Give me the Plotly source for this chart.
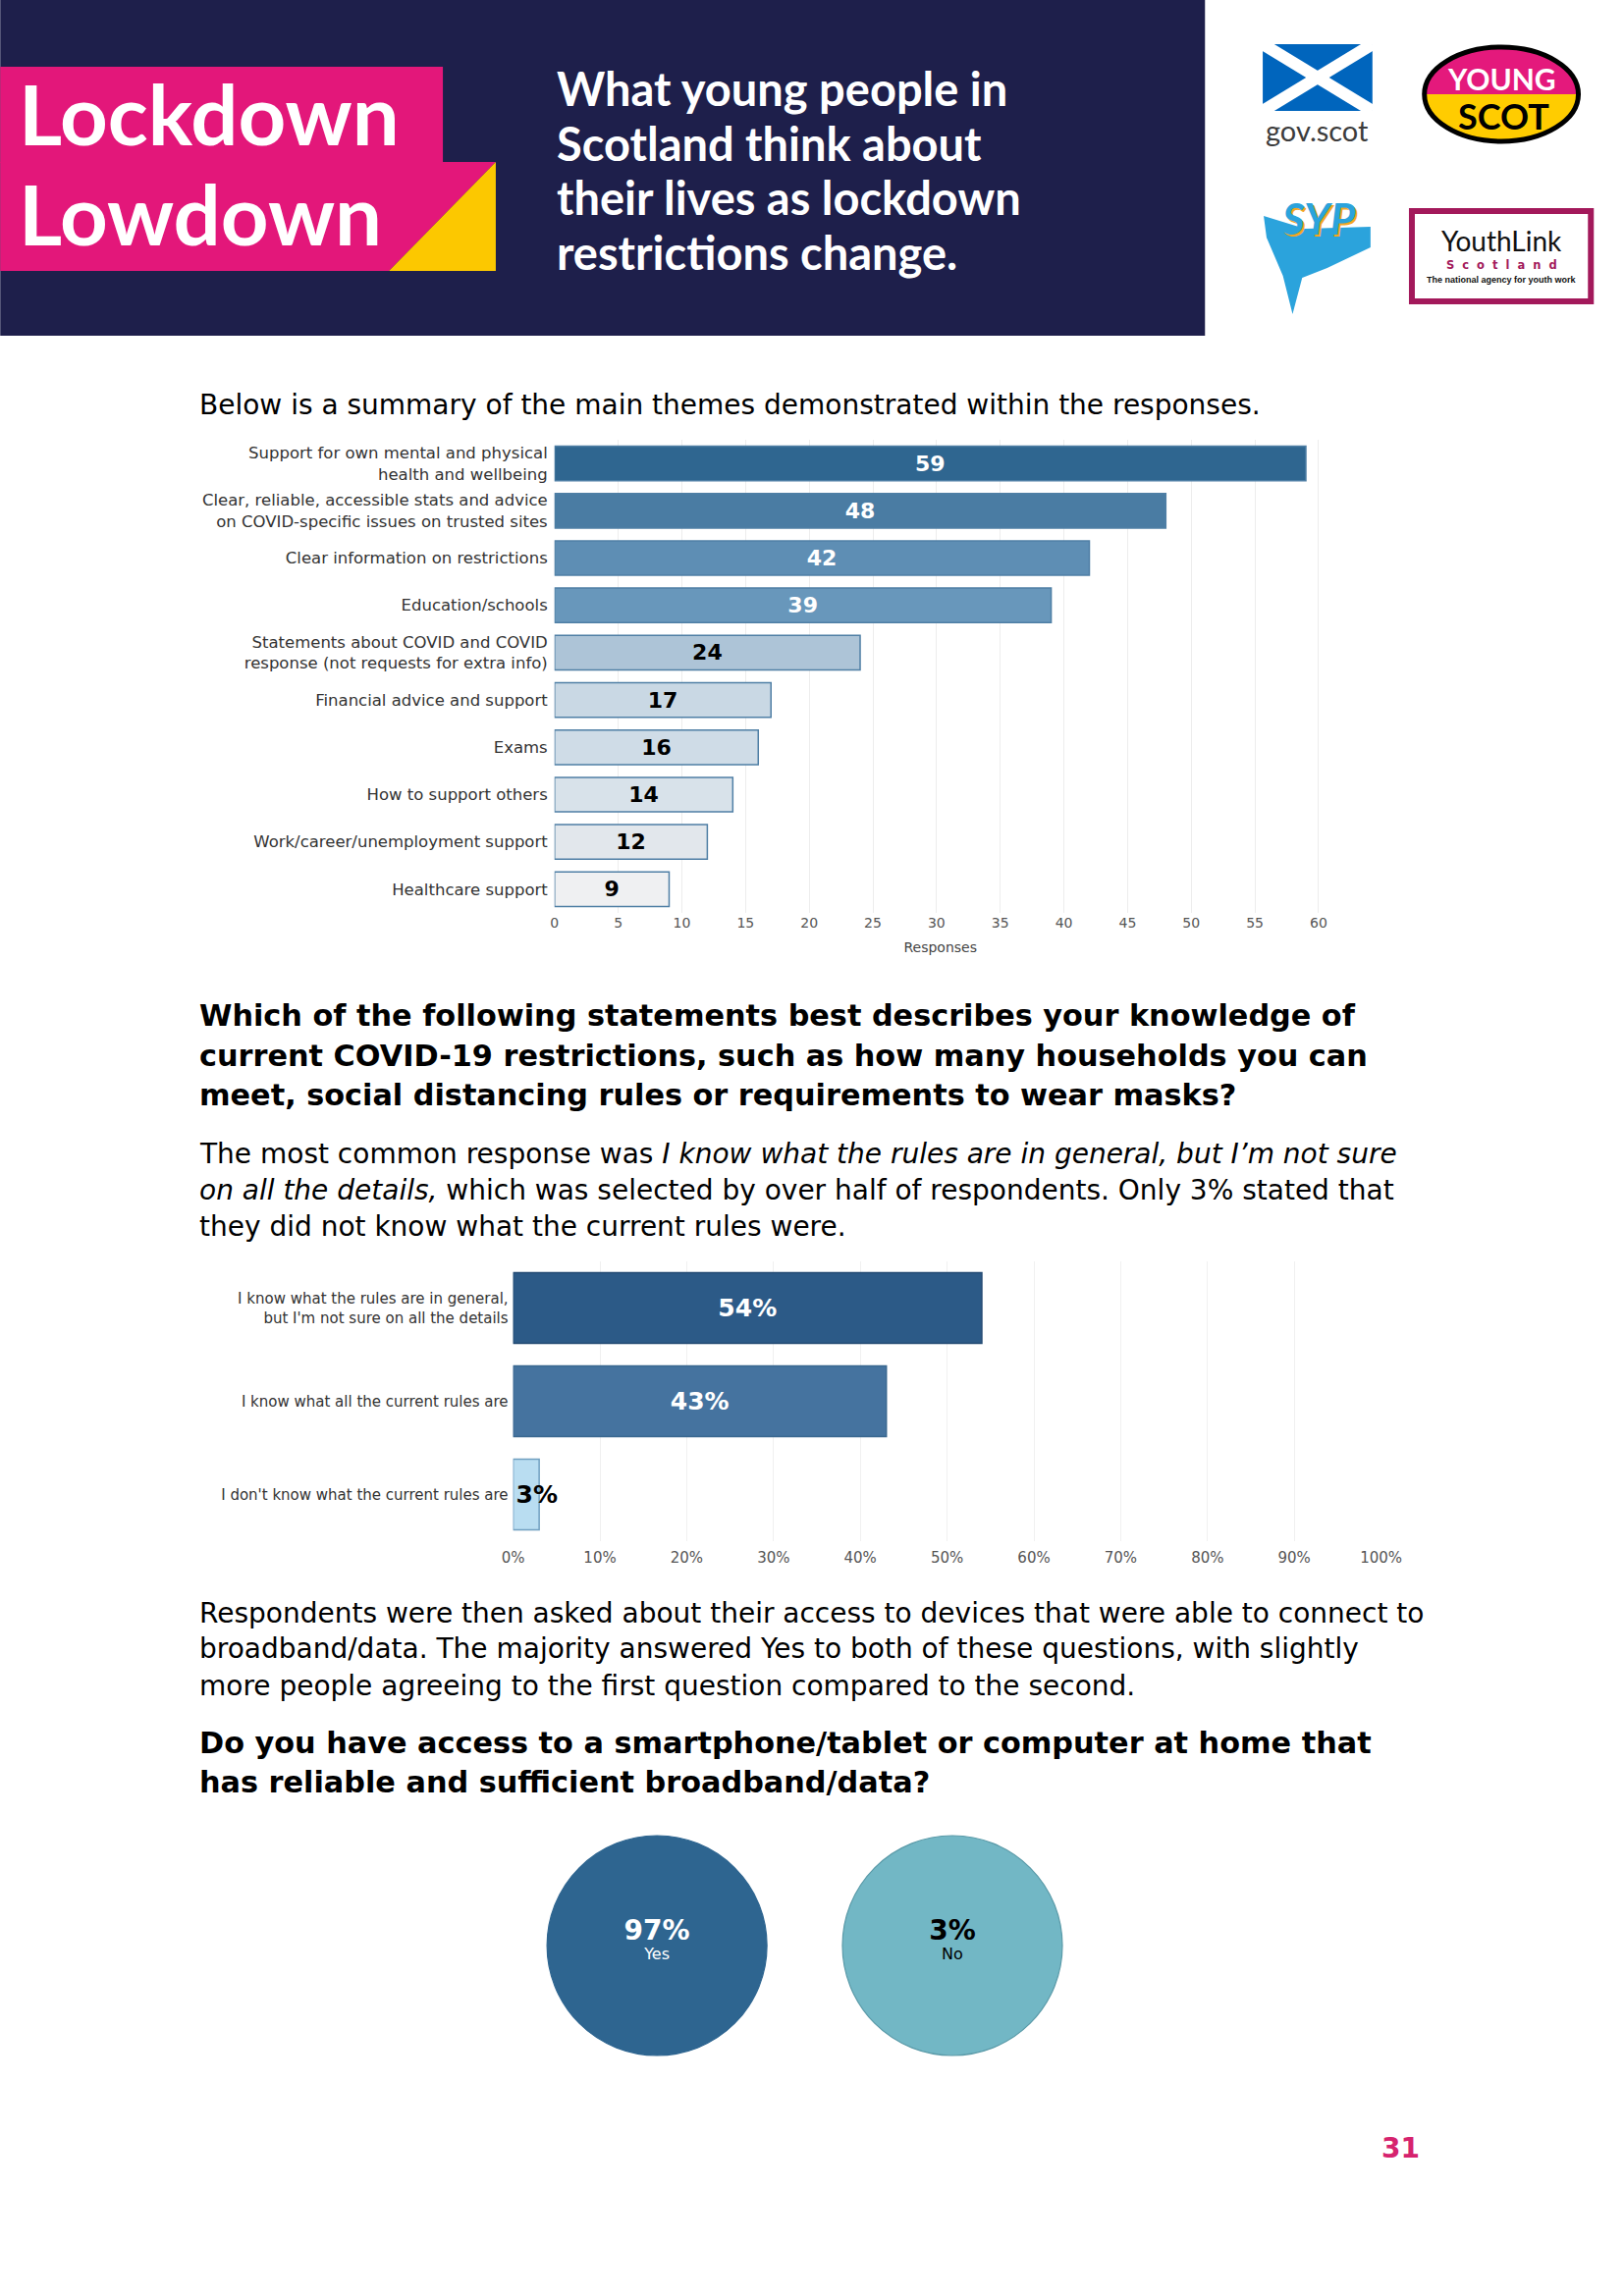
import plotly.graph_objects as go

W, H = 1654, 2339


def X(px):
    return px / W


def Y(py):
    return 1 - py / H


# ---------------- data ----------------
themes = [
    "Support for own mental and physical<br>health and wellbeing",
    "Clear, reliable, accessible stats and advice<br>on COVID-specific issues on trusted sites",
    "Clear information on restrictions",
    "Education/schools",
    "Statements about COVID and COVID<br>response (not requests for extra info)",
    "Financial advice and support",
    "Exams",
    "How to support others",
    "Work/career/unemployment support",
    "Healthcare support",
]
responses = [59, 48, 42, 39, 24, 17, 16, 14, 12, 9]
response_ticks = [0, 5, 10, 15, 20, 25, 30, 35, 40, 45, 50, 55, 60]

knowledge = [
    "I know what the rules are in general,<br>but I'm not sure on all the details",
    "I know what all the current rules are",
    "I don't know what the current rules are",
]
knowledge_pct = [54, 43, 3]
pct_ticks = [0, 10, 20, 30, 40, 50, 60, 70, 80, 90, 100]
pct_tick_text = ["0%", "10%", "20%", "30%", "40%", "50%", "60%", "70%", "80%", "90%", "100%"]

access = ["Yes", "No"]
access_pct = [97, 3]

# ---------------- styles ----------------
theme_colors = ["#2f6690", "#4a7ca3", "#5e8eb4", "#6897bb", "#adc4d7",
                "#c9d8e4", "#cfdce7", "#d8e2ea", "#e2e7ec", "#eff0f2"]
theme_text_colors = ["white"] * 4 + ["black"] * 6
knowledge_colors = ["#2c5a87", "#45739f", "#b9ddf1"]
knowledge_line = ["#244b73", "#3a6890", "#6f9fc0"]
knowledge_text = ["white", "white", "black"]
access_colors = ["#2e6590", "#72b7c5"]
access_line = ["#2e6590", "#5a9aa8"]
access_text = ["white", "black"]

BODY = "DejaVu Sans"
NAVY = "#1e1f4b"
PINK = "#e3177a"
YELLOW = "#fcc800"

fig = go.Figure()

# ---------------- chart 1 : themes ----------------
fig.add_trace(go.Bar(
    x=responses, y=themes, orientation="h", width=0.73,
    marker=dict(color=theme_colors, line=dict(color="#4f7fa5", width=1.5)),
    text=[f"<b>{v}</b>" for v in responses],
    textposition="inside", insidetextanchor="middle", textangle=0,
    constraintext="none",
    textfont=dict(family=BODY, size=22, color=theme_text_colors),
    xaxis="x", yaxis="y", hoverinfo="skip", showlegend=False,
))

# ---------------- chart 2 : knowledge ----------------
wide = [i for i, v in enumerate(knowledge_pct) if v >= 10]
narrow = [i for i, v in enumerate(knowledge_pct) if v < 10]
for idx, anchor in ((wide, "middle"), (narrow, "start")):
    fig.add_trace(go.Bar(
        x=[knowledge_pct[i] for i in idx], y=[knowledge[i] for i in idx],
        orientation="h", width=0.76,
        marker=dict(color=[knowledge_colors[i] for i in idx],
                    line=dict(color=[knowledge_line[i] for i in idx], width=1.5)),
        text=[f"<b>{knowledge_pct[i]}%</b>" for i in idx],
        textposition="inside", insidetextanchor=anchor, textangle=0,
        constraintext="none",
        textfont=dict(family=BODY, size=25, color=[knowledge_text[i] for i in idx]),
        xaxis="x2", yaxis="y2", hoverinfo="skip", showlegend=False,
    ))

# ---------------- chart 3 : access bubbles ----------------
fig.add_trace(go.Scatter(
    x=list(range(len(access))), y=[0] * len(access),
    mode="markers+text",
    marker=dict(size=224, color=access_colors,
                line=dict(color=access_line, width=1.2), opacity=1),
    text=[f"<span style='font-size:28px'><b>{p}%</b></span><br>{l}"
          for p, l in zip(access_pct, access)],
    textposition="middle center",
    textfont=dict(family=BODY, size=16, color=access_text),
    cliponaxis=False, xaxis="x3", yaxis="y3", hoverinfo="skip", showlegend=False,
))

# ---------------- shapes (header & logos) ----------------
shapes = []


def rect(x0, y0, x1, y1, fill, line_color=None, lw=0):
    shapes.append(dict(type="rect", xref="paper", yref="paper",
                       x0=X(x0), x1=X(x1), y0=Y(y1), y1=Y(y0),
                       fillcolor=fill, layer="above",
                       line=dict(width=lw, color=line_color or fill)))


def poly(pts, fill, line_color=None, lw=0):
    d = "M " + " L ".join(f"{X(a):.5f},{Y(b):.5f}" for a, b in pts) + " Z"
    shapes.append(dict(type="path", xref="paper", yref="paper", path=d,
                       fillcolor=fill, layer="above",
                       line=dict(width=lw, color=line_color or fill)))


def half_ellipse(cx, cy, rx, ry, top, fill):
    k = 0.5523
    s = -1 if top else 1
    pts = [(cx - rx, cy), (cx - rx, cy + s * k * ry), (cx - k * rx, cy + s * ry), (cx, cy + s * ry),
           (cx + k * rx, cy + s * ry), (cx + rx, cy + s * k * ry), (cx + rx, cy)]
    f = [f"{X(a):.5f},{Y(b):.5f}" for a, b in pts]
    d = f"M {f[0]} C {f[1]} {f[2]} {f[3]} C {f[4]} {f[5]} {f[6]} Z"
    shapes.append(dict(type="path", xref="paper", yref="paper", path=d,
                       fillcolor=fill, layer="above", line=dict(width=0, color=fill)))


# banner
rect(-12, -12, 1240, 342, NAVY)
rect(-12, 68, 448, 166, PINK)
poly([(-12, 165), (503, 165), (392, 276), (-12, 276)], PINK)
poly([(503, 165), (503, 276), (392, 276)], YELLOW)

# gov.scot flag
rect(1300, 45, 1414, 113, "#0065bd")
for (a, b, c, d) in ((1300, 45, 1414, 113), (1300, 113, 1414, 45)):
    shapes.append(dict(type="line", xref="paper", yref="paper",
                       x0=X(a), y0=Y(b), x1=X(c), y1=Y(d), layer="above",
                       line=dict(color="white", width=12)))
# Young Scot
YX = 1548
half_ellipse(YX, 96, 80, 48, True, "#e4197c")
half_ellipse(YX, 96, 80, 48, False, "#ffcc00")
shapes.append(dict(type="circle", xref="paper", yref="paper",
                   x0=X(YX - 80), x1=X(YX + 80), y0=Y(144), y1=Y(48), layer="above",
                   line=dict(color="black", width=5)))
# SYP
poly([(1301, 220), (1344, 233), (1412, 231), (1412, 252), (1367, 273),
      (1341, 283), (1331, 320), (1321, 281), (1304, 242)], "#2ba3dc")
# YouthLink
rect(1455, 215, 1641, 307, "white", "#a3195b", 6)

annotations = []


def txt(x, y, text, size, color="black", family=BODY, xanchor="left", yanchor="middle"):
    annotations.append(dict(xref="paper", yref="paper", x=X(x), y=Y(y), text=text,
                            showarrow=False, xanchor=xanchor, yanchor=yanchor,
                            align=xanchor if xanchor != "center" else "center",
                            borderpad=0,
                            font=dict(family=family, size=size, color=color)))


# banner text
txt(6, 115, "<b>Lockdown</b>", 85, "white", "Lato")
txt(6, 217, "<b>Lowdown</b>", 85, "white", "Lato")
for i, line in enumerate(["What young people in", "Scotland think about",
                          "their lives as lockdown", "restrictions change."]):
    txt(565, 90 + 55.5 * i, f"<b>{line}</b>", 47, "white", "Lato")

# logos text
txt(1357, 132, "gov.scot", 29, "#3c3c3c", "Lato", "center")
txt(YX, 80, "<b>YOUNG</b>", 30, "white", "Lato", "center")
txt(YX + 2, 118, "<b>SCOT</b>", 36, "black", "Lato", "center")
txt(1360, 224, "<b><i>SYP</i></b>", 44, "#f5a623", "Lato", "center")
txt(1358, 222, "<b><i>SYP</i></b>", 44, "#2ba3dc", "Lato", "center")
txt(1548, 245, "YouthLink", 28, "#111111", "Lato", "center")
txt(1548, 270, "<b>S  c  o  t  l  a  n  d</b>", 11.5, "#a3195b", BODY, "center")
txt(1548, 285, "<b>The national agency for youth work</b>", 9, "#111111", "Liberation Sans", "center")

# body text
TX = 194
txt(TX, 413, "Below is a summary of the main themes demonstrated within the responses.", 28)
for i, line in enumerate([
        "Which of the following statements best describes your knowledge of",
        "current COVID-19 restrictions, such as how many households you can",
        "meet, social distancing rules or requirements to wear masks?"]):
    txt(TX, 1035 + 40.5 * i, f"<b>{line}</b>", 30.3)
for i, line in enumerate([
        "The most common response was <i>I know what the rules are in general, but I’m not sure</i>",
        "<i>on all the details,</i> which was selected by over half of respondents. Only 3% stated that",
        "they did not know what the current rules were."]):
    txt(TX, 1175 + 37 * i, line, 28)
for i, line in enumerate([
        "Respondents were then asked about their access to devices that were able to connect to",
        "broadband/data. The majority answered Yes to both of these questions, with slightly",
        "more people agreeing to the first question compared to the second."]):
    txt(TX, 1643 + 37 * i, line, 28)
for i, line in enumerate([
        "Do you have access to a smartphone/tablet or computer at home that",
        "has reliable and sufficient broadband/data?"]):
    txt(TX, 1775 + 40.5 * i, f"<b>{line}</b>", 30.3)

txt(1443, 2188, "<b>31</b>", 28, "#d6236e", BODY, "center")

# ---------------- layout ----------------
grid = "#ededed"
fig.update_layout(
    width=W, height=H, autosize=False,
    margin=dict(l=0, r=0, t=0, b=0, pad=0),
    paper_bgcolor="white", plot_bgcolor="white",
    barmode="overlay", showlegend=False,
    shapes=shapes, annotations=annotations,
    xaxis=dict(domain=[X(564), X(1366)], range=[0, 60.6], anchor="y",
               tickmode="array", tickvals=response_ticks,
               showgrid=True, gridcolor=grid, gridwidth=1,
               zeroline=False, showline=False, ticks="",
               tickfont=dict(family=BODY, size=14, color="#555555"),
               title=dict(text="Responses", standoff=13,
                          font=dict(family=BODY, size=14, color="#444444"))),
    yaxis=dict(domain=[Y(930), Y(448)], range=[len(themes) - 0.5, -0.5], anchor="x",
               type="category", categoryorder="array", categoryarray=themes,
               showgrid=False, zeroline=False, showline=False, ticks="",
               ticklabelstandoff=6,
               tickfont=dict(family=BODY, size=16.5, color="#333333")),
    xaxis2=dict(domain=[X(521), X(1423)], range=[0, 100], anchor="y2",
                tickmode="array", tickvals=pct_ticks, ticktext=pct_tick_text,
                showgrid=True, gridcolor="#f0f0f0",
                zeroline=False, showline=False, ticks="", ticklabelstandoff=6,
                tickfont=dict(family=BODY, size=15, color="#555555")),
    yaxis2=dict(domain=[Y(1570), Y(1285)], range=[len(knowledge) - 0.5, -0.5], anchor="x2",
                type="category", categoryorder="array", categoryarray=knowledge,
                showgrid=False, zeroline=False, showline=False, ticks="",
                ticklabelstandoff=4,
                tickfont=dict(family=BODY, size=15, color="#333333")),
    xaxis3=dict(domain=[X(517), X(1131)], range=[-0.5, 1.5], anchor="y3", visible=False),
    yaxis3=dict(domain=[Y(2096), Y(1868)], range=[-1, 1], anchor="x3", visible=False),
)

fig.write_html("out.html", config={"displayModeBar": False},
               post_script="document.body.style.margin='0';"
                           "document.body.style.overflow='hidden';"
                           "document.documentElement.style.overflow='hidden';")
